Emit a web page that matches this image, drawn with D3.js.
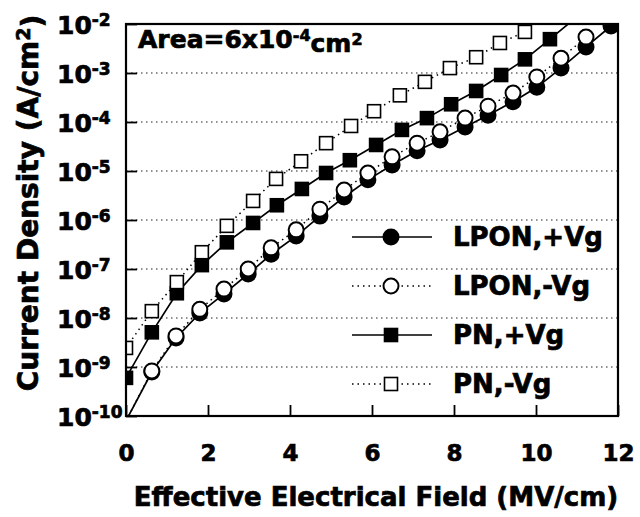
<!DOCTYPE html>
<html>
<head>
<meta charset="utf-8">
<script src="https://cdn.jsdelivr.net/npm/d3@7"></script>
<style>
  body { margin: 0; background: #fff; }
  svg { display: block; }
  text { font-family: "DejaVu Sans", sans-serif; font-weight: bold; fill: #000; stroke: #000; stroke-width: 0.7px; }
</style>
</head>
<body>
<script>
// Field (MV/cm) and current density (A/cm2)
const lponPosE = [0, 0.63, 1.22, 1.80, 2.39, 2.98, 3.54, 4.15, 4.73, 5.32, 5.90, 6.49, 7.10, 7.66, 8.27, 8.83, 9.44, 10.02, 10.61, 11.22, 11.83];
const lponPosJ = [8e-11, 7.9e-10, 3.9e-9, 1.26e-8, 3.1e-8, 7.9e-8, 2.0e-7, 4.7e-7, 1.2e-6, 2.95e-6, 6.6e-6, 1.32e-5, 2.6e-5, 4.3e-5, 7.9e-5, 1.38e-4, 2.6e-4, 5.1e-4, 1.26e-3, 3.4e-3, 9.1e-3];

const lponNegE = [0, 0.63, 1.22, 1.80, 2.39, 2.98, 3.54, 4.15, 4.73, 5.32, 5.90, 6.49, 7.10, 7.66, 8.27, 8.83, 9.44, 10.02, 10.61, 11.22];
const lponNegJ = [8e-11, 8.3e-10, 4.3e-9, 1.5e-8, 3.9e-8, 1.0e-7, 2.7e-7, 6.3e-7, 1.66e-6, 4.1e-6, 9.1e-6, 1.95e-5, 3.7e-5, 6.3e-5, 1.2e-4, 2.1e-4, 3.9e-4, 8.3e-4, 2.0e-3, 5.4e-3];

const pnPosE = [0, 0.63, 1.24, 1.85, 2.46, 3.10, 3.68, 4.29, 4.88, 5.46, 6.10, 6.73, 7.34, 7.93, 8.54, 9.15, 9.73, 10.34, 10.95];
const pnPosJ = [6.0e-10, 5.1e-9, 3.2e-8, 1.2e-7, 3.5e-7, 8.7e-7, 2.0e-6, 4.3e-6, 9.1e-6, 1.66e-5, 3.4e-5, 6.9e-5, 1.2e-4, 2.3e-4, 4.3e-4, 9.1e-4, 1.9e-3, 4.9e-3, 1.3e-2];

const pnNegE = [0, 0.63, 1.24, 1.85, 2.46, 3.10, 3.66, 4.27, 4.88, 5.49, 6.05, 6.68, 7.29, 7.90, 8.54, 9.12, 9.73];
const pnNegJ = [2.45e-9, 1.38e-8, 5.4e-8, 2.2e-7, 7.6e-7, 2.45e-6, 6.9e-6, 1.58e-5, 3.7e-5, 8.3e-5, 1.66e-4, 3.5e-4, 6.6e-4, 1.26e-3, 2.1e-3, 4.1e-3, 6.9e-3];

const xTicks = [0, 2, 4, 6, 8, 10, 12];
const yExps = [-2, -3, -4, -5, -6, -7, -8, -9, -10];
const legendLabels = ["LPON,+Vg", "LPON,-Vg", "PN,+Vg", "PN,-Vg"];

const width = 640, height = 517;
const plotL = 126, plotR = 618, plotT = 24, plotB = 416;

const svg = d3.select("body").append("svg")
    .attr("width", width)
    .attr("height", height);

const x = d3.scaleLinear().domain([0, 12]).range([plotL, plotR]);
const y = d3.scaleLog().domain([1e-10, 1e-2]).range([plotB, plotT]);

svg.append("clipPath").attr("id", "plot")
  .append("rect").attr("x", plotL).attr("y", plotT)
  .attr("width", plotR - plotL).attr("height", plotB - plotT);

// dotted grid on each decade
svg.append("g").selectAll("line")
  .data(yExps.slice(1, -1))
  .enter().append("line")
  .attr("x1", plotL).attr("x2", plotR)
  .attr("y1", d => y(Math.pow(10, d)))
  .attr("y2", d => y(Math.pow(10, d)))
  .style("stroke", "#222")
  .style("stroke-width", 1.2)
  .style("stroke-dasharray", "1.5,3.5");

// x axis
const gx = svg.append("g")
    .attr("transform", `translate(0,${plotB})`)
    .call(d3.axisBottom(x).tickValues(xTicks).tickSize(-11).tickPadding(29));
gx.select(".domain").remove();
gx.selectAll("line").style("stroke", "#000").style("stroke-width", 1.8);
gx.selectAll("text").style("font-size", "23px").style("font-family", "DejaVu Sans");

// y axis
const gy = svg.append("g")
    .attr("transform", `translate(${plotL},0)`)
    .call(d3.axisLeft(y).tickValues(yExps.map(e => Math.pow(10, e))).tickSize(-11));
gy.select(".domain").remove();
gy.selectAll("line").style("stroke", "#000").style("stroke-width", 1.8);
gy.selectAll("text").each(function(d) {
    const t = d3.select(this);
    const e = Math.round(Math.log10(d));
    t.text(null)
     .attr("x", 57 - plotL)
     .attr("dy", "0.36em")
     .attr("text-anchor", "start")
     .style("font-size", "25px")
     .style("font-family", "DejaVu Sans");
    t.append("tspan").text("10");
    t.append("tspan").attr("dy", "-0.42em").style("font-size", "17px").text(e);
});

// series
const series = [
  { e: lponPosE, j: lponPosJ, shape: "circle", filled: true, dash: null },
  { e: lponNegE, j: lponNegJ, shape: "circle", filled: false, dash: "1.5,4" },
  { e: pnPosE, j: pnPosJ, shape: "square", filled: true, dash: null },
  { e: pnNegE, j: pnNegJ, shape: "square", filled: false, dash: "1.5,4" }
];

const line = d3.line().x(d => x(d[0])).y(d => y(d[1]));

function marker(g, s, cx, cy) {
    if (s.shape === "circle") {
        g.append("circle").attr("cx", cx).attr("cy", cy).attr("r", 7.5)
         .style("fill", s.filled ? "#000" : "#fff")
         .style("stroke", "#000").style("stroke-width", 2);
    } else {
        g.append("rect").attr("x", cx - 6.5).attr("y", cy - 6.5)
         .attr("width", 13).attr("height", 13)
         .style("fill", s.filled ? "#000" : "#fff")
         .style("stroke", "#000").style("stroke-width", 1.6);
    }
}

const plot = svg.append("g").attr("clip-path", "url(#plot)");
series.forEach(s => {
    const pts = s.e.map((v, i) => [v, s.j[i]]);
    plot.append("path")
        .datum(pts)
        .attr("d", line)
        .style("fill", "none")
        .style("stroke", "#000")
        .style("stroke-width", s.dash ? 1.5 : 1.7)
        .style("stroke-dasharray", s.dash);
});
// filled first, open drawn on top
[0, 2, 1, 3].forEach(k => {
    const s = series[k];
    const g = plot.append("g");
    s.e.forEach((v, i) => {
        if (s.j[i] >= 1e-10 && s.j[i] <= 1e-2) marker(g, s, x(v), y(s.j[i]));
    });
});

// frame
svg.append("rect")
  .attr("x", plotL).attr("y", plotT)
  .attr("width", plotR - plotL).attr("height", plotB - plotT)
  .style("fill", "none").style("stroke", "#000").style("stroke-width", 2.2);

// legend
const legend = svg.append("g");
legendLabels.forEach((lab, i) => {
    const s = series[i];
    const ly = 237 + i * 49;
    legend.append("line")
      .attr("x1", 352).attr("x2", 432).attr("y1", ly).attr("y2", ly)
      .style("stroke", "#000").style("stroke-width", 1.5)
      .style("stroke-dasharray", s.dash);
    marker(legend, s, 391, ly);
    legend.append("text")
      .attr("x", 453).attr("y", ly).attr("dy", "0.36em")
      .style("font-size", "26px")
      .text(lab);
});

// annotation
const note = svg.append("text").attr("x", 138).attr("y", 48).style("font-size", "25px");
note.append("tspan").text("Area=6x10");
note.append("tspan").attr("dy", "-0.45em").style("font-size", "16px").text("-4");
note.append("tspan").attr("dy", "0.45em").text("cm");
note.append("tspan").attr("dy", "-0.45em").style("font-size", "16px").text("2");

// axis titles
svg.append("text")
  .attr("x", (plotL + plotR) / 2 + 4).attr("y", 497).attr("dy", "0.36em")
  .attr("text-anchor", "middle")
  .style("font-size", "26px")
  .text("Effective Electrical Field (MV/cm)");

const yt = svg.append("text")
  .attr("transform", "translate(28,203) rotate(-90)")
  .attr("text-anchor", "middle")
  .attr("dy", "0.36em")
  .style("font-size", "28px");
yt.append("tspan").text("Current Density (A/cm");
yt.append("tspan").attr("dy", "-0.4em").style("font-size", "19px").text("2");
yt.append("tspan").attr("dy", "0.4em").text(")");
</script>
</body>
</html>
